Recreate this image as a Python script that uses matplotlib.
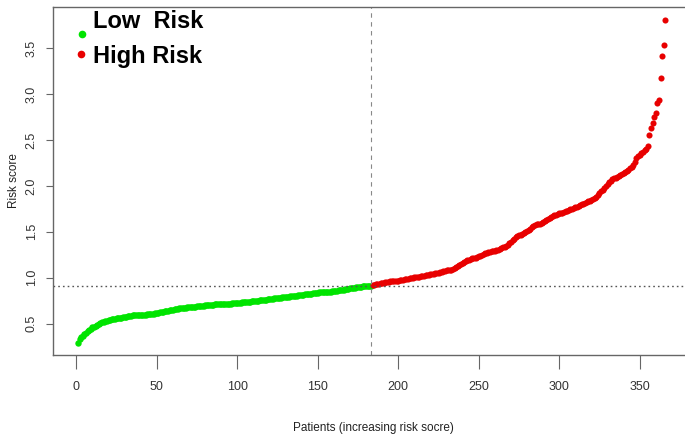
import numpy as np
import matplotlib
matplotlib.use("Agg")
import matplotlib.pyplot as plt

# risk scores of patients, sorted ascending
low_risk_scores = [
    0.29, 0.33, 0.36, 0.37, 0.39, 0.40, 0.42, 0.43, 0.44, 0.46,
    0.47, 0.48, 0.49, 0.50, 0.51, 0.52, 0.52, 0.53, 0.53, 0.54,
    0.54, 0.55, 0.55, 0.55, 0.56, 0.56, 0.56, 0.56, 0.57, 0.57,
    0.57, 0.58, 0.58, 0.58, 0.59, 0.59, 0.59, 0.59, 0.60, 0.60,
    0.60, 0.60, 0.60, 0.61, 0.61, 0.61, 0.61, 0.61, 0.62, 0.62,
    0.62, 0.63, 0.63, 0.63, 0.64, 0.64, 0.64, 0.65, 0.65, 0.65,
    0.66, 0.66, 0.66, 0.67, 0.67, 0.67, 0.67, 0.67, 0.68, 0.68,
    0.68, 0.68, 0.68, 0.68, 0.69, 0.69, 0.69, 0.69, 0.69, 0.70,
    0.70, 0.70, 0.70, 0.70, 0.70, 0.71, 0.71, 0.71, 0.71, 0.71,
    0.72, 0.72, 0.72, 0.72, 0.72, 0.72, 0.73, 0.73, 0.73, 0.73,
    0.73, 0.73, 0.74, 0.74, 0.74, 0.74, 0.74, 0.74, 0.75, 0.75,
    0.75, 0.75, 0.75, 0.76, 0.76, 0.76, 0.76, 0.76, 0.77, 0.77,
    0.77, 0.77, 0.78, 0.78, 0.78, 0.78, 0.78, 0.79, 0.79, 0.79,
    0.79, 0.79, 0.80, 0.80, 0.80, 0.80, 0.80, 0.81, 0.81, 0.81,
    0.81, 0.82, 0.82, 0.82, 0.82, 0.82, 0.83, 0.83, 0.83, 0.83,
    0.84, 0.84, 0.84, 0.84, 0.85, 0.85, 0.85, 0.85, 0.86, 0.86,
    0.86, 0.86, 0.87, 0.87, 0.87, 0.87, 0.88, 0.88, 0.88, 0.89,
    0.89, 0.89, 0.89, 0.90, 0.90, 0.90, 0.90, 0.91, 0.91, 0.91,
    0.91, 0.91, 0.915,
]

high_risk_scores = [
    0.92, 0.92, 0.93, 0.93, 0.93, 0.94, 0.94, 0.94, 0.95, 0.95,
    0.95, 0.96, 0.96, 0.96, 0.97, 0.97, 0.97, 0.98, 0.98, 0.98,
    0.99, 0.99, 0.99, 1.00, 1.00, 1.00, 1.01, 1.01, 1.01, 1.01,
    1.02, 1.02, 1.02, 1.03, 1.03, 1.03, 1.04, 1.04, 1.04, 1.05,
    1.05, 1.05, 1.06, 1.06, 1.07, 1.07, 1.08, 1.08, 1.09, 1.09,
    1.10, 1.11, 1.12, 1.13, 1.14, 1.15, 1.16, 1.17, 1.18, 1.19,
    1.19, 1.20, 1.21, 1.21, 1.22, 1.23, 1.24, 1.24, 1.25, 1.26,
    1.27, 1.27, 1.28, 1.28, 1.29, 1.29, 1.29, 1.30, 1.30, 1.31,
    1.32, 1.33, 1.34, 1.35, 1.36, 1.38, 1.39, 1.41, 1.42, 1.44,
    1.45, 1.46, 1.47, 1.48, 1.49, 1.50, 1.51, 1.52, 1.53, 1.55,
    1.56, 1.57, 1.58, 1.58, 1.59, 1.60, 1.61, 1.62, 1.63, 1.64,
    1.65, 1.66, 1.67, 1.68, 1.68, 1.69, 1.70, 1.71, 1.71, 1.72,
    1.73, 1.73, 1.74, 1.75, 1.75, 1.76, 1.77, 1.77, 1.78, 1.79,
    1.80, 1.80, 1.81, 1.82, 1.83, 1.84, 1.85, 1.86, 1.87, 1.88,
    1.90, 1.92, 1.94, 1.96, 1.98, 2.00, 2.02, 2.04, 2.05, 2.07,
    2.08, 2.09, 2.10, 2.11, 2.12, 2.13, 2.14, 2.15, 2.16, 2.17,
    2.19, 2.21, 2.23, 2.26, 2.30, 2.32, 2.34, 2.36, 2.37, 2.39,
    2.40, 2.43, 2.55, 2.63, 2.68, 2.75, 2.79, 2.90, 2.93, 3.17,
    3.41, 3.53, 3.80,
]

cutoff_index = 183
cutoff_score = 0.915

x_ticks = [0, 50, 100, 150, 200, 250, 300, 350]
y_ticks = [0.5, 1.0, 1.5, 2.0, 2.5, 3.0, 3.5]

green = "#00e400"
red = "#e80000"
W, H = 685, 444

fig = plt.figure(figsize=(W / 100, H / 100), dpi=100)
ax = fig.add_axes([53 / W, 1 - 355 / H, (688 - 53) / W, (355 - 7.5) / H])

n_low = len(low_risk_scores)
x_low = np.arange(1, n_low + 1)
x_high = np.arange(n_low + 1, n_low + len(high_risk_scores) + 1)

ax.plot(x_low, low_risk_scores, "o", color=green, ms=4.6, mew=0)
ax.plot(x_high, high_risk_scores, "o", color=red, ms=4.4, mew=0)

ax.axhline(cutoff_score, color="#555555", lw=1, ls=(0, (1.2, 2.2)))
ax.axvline(cutoff_index, color="#888888", lw=0.8, ls=(0, (4, 4)))

ax.set_xlim(-14.5, 380)
ax.set_ylim(0.16, 3.94)

ax.set_xticks(x_ticks)
ax.set_xticklabels([str(t) for t in x_ticks], fontsize=9, family="Liberation Sans", color="#333333")
ax.set_yticks(y_ticks)
ax.set_yticklabels([f"{t:.1f}" for t in y_ticks], fontsize=9, rotation=90,
                   va="center", color="#333333", family="Liberation Sans")
ax.tick_params(axis="x", length=10, width=0.8, color="#666666", pad=9)
ax.tick_params(axis="y", length=5, width=0.8, color="#666666", pad=6)

ax.spines["right"].set_visible(False)
for s in ["left", "bottom", "top"]:
    ax.spines[s].set_color("#666666")
    ax.spines[s].set_linewidth(1.0)

fig.text(373 / W, 1 - 428 / H, "Patients (increasing risk socre)", ha="center", va="center",
         fontsize=8.5, family="Liberation Sans", color="#222222")
fig.text(14 / W, 1 - 181 / H, "Risk score", ha="center", va="center", rotation=90,
         fontsize=8.5, family="Liberation Sans", color="#222222")

# legend
fig.text(93 / W, 1 - 21 / H, "Low  Risk", ha="left", va="center", fontsize=17,
         fontweight="bold", family="Liberation Sans")
fig.text(93 / W, 1 - 57 / H, "High Risk", ha="left", va="center", fontsize=17,
         fontweight="bold", family="Liberation Sans")
ax.plot([81.7 / W], [1 - 34.3 / H], "o", color=green, ms=5.5, mew=0,
        transform=fig.transFigure, clip_on=False)
ax.plot([81 / W], [1 - 54.3 / H], "o", color=red, ms=5.5, mew=0,
        transform=fig.transFigure, clip_on=False)

fig.savefig("out.png", dpi=100)
